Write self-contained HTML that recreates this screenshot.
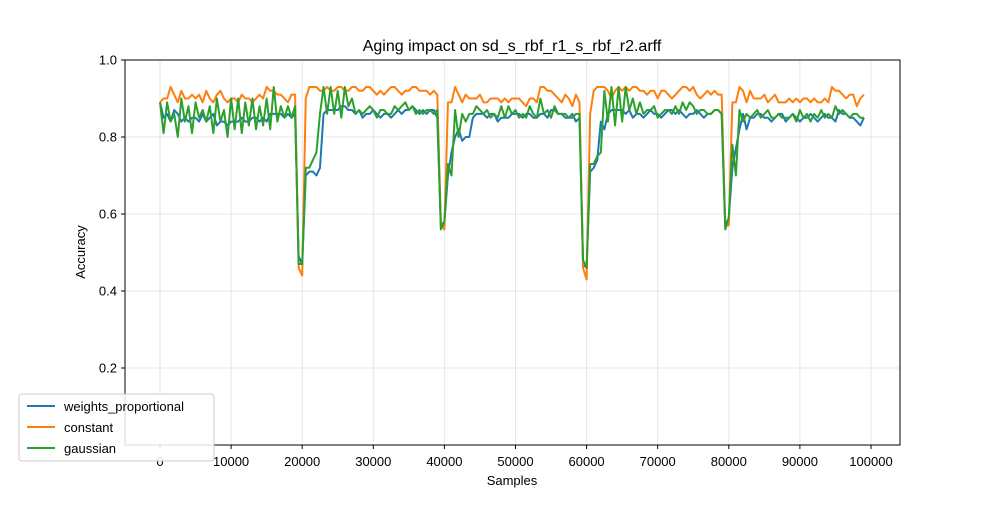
<!DOCTYPE html>
<html><head><meta charset="utf-8"><style>
body{margin:0;background:#fff}
svg{font-family:"Liberation Sans","DejaVu Sans",sans-serif}
</style></head><body>
<svg id="chart" width="1000" height="500" viewBox="0 0 1000 500" xmlns="http://www.w3.org/2000/svg">
<rect width="1000" height="500" fill="#fff"/>
<text x="512" y="51" font-size="16" text-anchor="middle" fill="#000">Aging impact on sd_s_rbf_r1_s_rbf_r2.arff</text>
<g id="grid"></g>
<g id="lines"></g>
<rect x="125" y="60" width="775" height="385" fill="none" stroke="#000" stroke-width="1"/>
<g id="ticks"></g>
<text x="512" y="485" font-size="13" text-anchor="middle">Samples</text>
<text transform="translate(85,252) rotate(-90)" font-size="13" text-anchor="middle">Accuracy</text>
<g id="legend">
<rect x="19" y="394" width="195" height="67" rx="3" fill="#fff" fill-opacity="0.85" stroke="#ccc"/>
<line x1="27" y1="406" x2="55" y2="406" stroke="#1f77b4" stroke-width="2"/>
<text x="64" y="411" font-size="13">weights_proportional</text>
<line x1="27" y1="427" x2="55" y2="427" stroke="#ff7f0e" stroke-width="2"/>
<text x="64" y="432" font-size="13">constant</text>
<line x1="27" y1="448" x2="55" y2="448" stroke="#2ca02c" stroke-width="2"/>
<text x="64" y="453" font-size="13">gaussian</text>
</g>
</svg>
<script>
const xTicks=[0,10000,20000,30000,40000,50000,60000,70000,80000,90000,100000];
const yTicks=[0.2,0.4,0.6,0.8,1.0];
const sampleStep=500;
const weightsProportional=[
0.89,0.85,0.86,0.84,0.87,0.86,0.84,0.85,0.84,0.85,0.85,0.84,0.86,0.84,0.85,0.86,0.83,0.84,0.84,0.83,0.84,0.84,0.84,0.85,0.84,0.84,0.85,0.85,0.84,0.85,0.84,0.86,0.86,0.86,0.86,0.85,0.86,0.85,0.86,
0.49,0.47,
0.70,0.71,0.71,0.70,0.72,0.86,
0.87,0.87,0.87,0.87,0.88,0.88,0.87,0.87,0.86,0.87,0.85,0.86,0.86,0.87,0.86,0.85,0.86,0.86,0.85,0.86,0.87,0.86,0.87,0.87,0.88,0.87,0.86,0.87,0.86,0.87,0.87,0.85,
0.57,0.58,
0.70,0.76,0.80,0.82,0.79,0.80,0.80,0.85,0.86,0.86,0.86,0.85,0.86,0.86,0.84,0.85,0.85,0.85,0.86,0.86,0.86,0.85,0.86,0.86,0.85,0.85,0.86,0.86,0.85,0.87,0.87,0.86,0.86,0.85,0.85,0.86,0.84,0.85,
0.47,0.46,
0.71,0.72,0.74,0.84,0.82,0.86,
0.87,0.87,0.87,0.87,0.86,0.87,0.85,0.86,0.86,0.85,0.86,0.87,0.86,0.86,0.85,0.86,0.87,0.87,0.86,0.87,0.86,0.85,0.86,0.86,0.87,0.86,0.85,0.86,0.86,0.87,0.87,0.86,
0.57,0.59,
0.72,0.77,0.82,0.86,0.82,0.85,0.85,0.86,0.86,0.85,0.85,0.84,0.85,0.86,0.86,0.84,0.85,0.86,0.85,0.84,0.85,0.85,0.86,0.85,0.84,0.85,0.86,0.85,0.85,0.84,0.87,0.86,0.86,0.85,0.85,0.84,0.83,0.85];
const constant=[
0.89,0.90,0.90,0.93,0.91,0.89,0.92,0.90,0.90,0.91,0.90,0.91,0.89,0.92,0.90,0.89,0.91,0.92,0.90,0.89,0.90,0.90,0.89,0.91,0.90,0.90,0.89,0.90,0.91,0.90,0.93,0.92,0.92,0.91,0.91,0.90,0.89,0.91,0.91,
0.46,0.44,
0.90,0.93,0.93,0.93,0.92,0.92,
0.93,0.92,0.92,0.93,0.93,0.92,0.92,0.93,0.93,0.92,0.92,0.93,0.93,0.92,0.91,0.92,0.91,0.92,0.93,0.93,0.92,0.91,0.92,0.92,0.93,0.93,0.92,0.92,0.92,0.91,0.92,0.91,
0.58,0.56,
0.89,0.89,0.93,0.91,0.89,0.91,0.90,0.90,0.90,0.91,0.89,0.89,0.90,0.90,0.90,0.89,0.90,0.89,0.90,0.90,0.90,0.89,0.88,0.90,0.90,0.89,0.93,0.93,0.92,0.92,0.91,0.90,0.89,0.91,0.90,0.88,0.91,0.89,
0.46,0.43,
0.86,0.92,0.93,0.93,0.93,0.92,
0.90,0.92,0.93,0.92,0.93,0.92,0.93,0.93,0.92,0.92,0.91,0.92,0.92,0.90,0.92,0.92,0.91,0.90,0.91,0.92,0.93,0.93,0.92,0.93,0.91,0.90,0.91,0.92,0.91,0.92,0.91,0.91,
0.57,0.57,
0.89,0.89,0.93,0.92,0.89,0.92,0.90,0.90,0.90,0.91,0.89,0.90,0.91,0.89,0.89,0.89,0.90,0.89,0.90,0.89,0.90,0.90,0.89,0.90,0.89,0.89,0.90,0.89,0.93,0.92,0.92,0.91,0.90,0.91,0.91,0.88,0.90,0.91];
const gaussian=[
0.89,0.81,0.89,0.84,0.86,0.80,0.90,0.84,0.88,0.81,0.89,0.85,0.87,0.84,0.88,0.81,0.90,0.84,0.87,0.80,0.90,0.82,0.90,0.81,0.89,0.83,0.90,0.82,0.88,0.83,0.90,0.82,0.93,0.84,0.88,0.85,0.88,0.85,0.88,
0.47,0.47,
0.72,0.72,0.74,0.76,0.86,0.93,
0.86,0.93,0.86,0.92,0.85,0.93,0.88,0.90,0.86,0.87,0.86,0.87,0.88,0.87,0.85,0.87,0.87,0.86,0.86,0.88,0.87,0.88,0.89,0.87,0.88,0.86,0.87,0.86,0.87,0.87,0.86,0.87,
0.56,0.58,
0.73,0.70,0.87,0.80,0.86,0.84,0.86,0.86,0.88,0.87,0.86,0.87,0.85,0.86,0.85,0.88,0.85,0.88,0.86,0.87,0.85,0.86,0.85,0.88,0.86,0.85,0.90,0.86,0.87,0.85,0.88,0.86,0.86,0.86,0.85,0.85,0.86,0.86,
0.48,0.46,
0.73,0.73,0.75,0.76,0.92,0.84,
0.93,0.83,0.93,0.84,0.93,0.87,0.90,0.86,0.89,0.86,0.87,0.87,0.88,0.85,0.86,0.87,0.87,0.86,0.88,0.86,0.89,0.87,0.89,0.88,0.86,0.87,0.87,0.86,0.86,0.87,0.87,0.86,
0.56,0.59,
0.78,0.70,0.87,0.84,0.86,0.85,0.86,0.87,0.85,0.86,0.87,0.85,0.85,0.86,0.85,0.85,0.85,0.86,0.84,0.87,0.85,0.86,0.84,0.86,0.85,0.87,0.85,0.86,0.85,0.88,0.86,0.87,0.86,0.85,0.86,0.86,0.85,0.85];

const NS='http://www.w3.org/2000/svg';
function xs(v){return 160+v*(711/100000);}
function ys(v){return 445-v*385;}
const grid=document.getElementById('grid'),ticks=document.getElementById('ticks'),lines=document.getElementById('lines');
function mk(tag,attrs,parent){const e=document.createElementNS(NS,tag);for(const k in attrs)e.setAttribute(k,attrs[k]);parent.appendChild(e);return e;}
xTicks.forEach(t=>{
  const x=xs(t);
  const g=mk('line',{x1:x,x2:x,y1:60,y2:445,stroke:'#b0b0b0','stroke-opacity':0.3,'stroke-width':1},grid);
  
  
  const tk=mk('line',{x1:x,x2:x,y1:445,y2:449,stroke:'#000'},ticks);
  
  
  const tx=mk('text',{x:x,y:466,'font-size':13,'text-anchor':'middle'},ticks);
  tx.textContent=String(t);
  
  
});
yTicks.forEach(t=>{
  const y=ys(t);
  const g=mk('line',{x1:125,x2:900,y1:y,y2:y,stroke:'#b0b0b0','stroke-opacity':0.3,'stroke-width':1},grid);
  
  
  const tk=mk('line',{x1:121,x2:125,y1:y,y2:y,stroke:'#000'},ticks);
  
  
  const tx=mk('text',{x:117,y:y+4.5,'font-size':13,'text-anchor':'end'},ticks);
  tx.textContent=t.toFixed(1);
  
  
});
function series(vals,color,name){
  const d=vals.map((v,i)=>(i?'L':'M')+xs(i*sampleStep).toFixed(2)+','+ys(v).toFixed(2)).join('');
  const p=mk('path',{d:d,fill:'none',stroke:color,'stroke-width':2,'stroke-linejoin':'round'},lines);
  
  
}
series(weightsProportional,'#1f77b4','weights-proportional-line');
series(constant,'#ff7f0e','constant-line');
series(gaussian,'#2ca02c','gaussian-line');
</script>
</body></html>
